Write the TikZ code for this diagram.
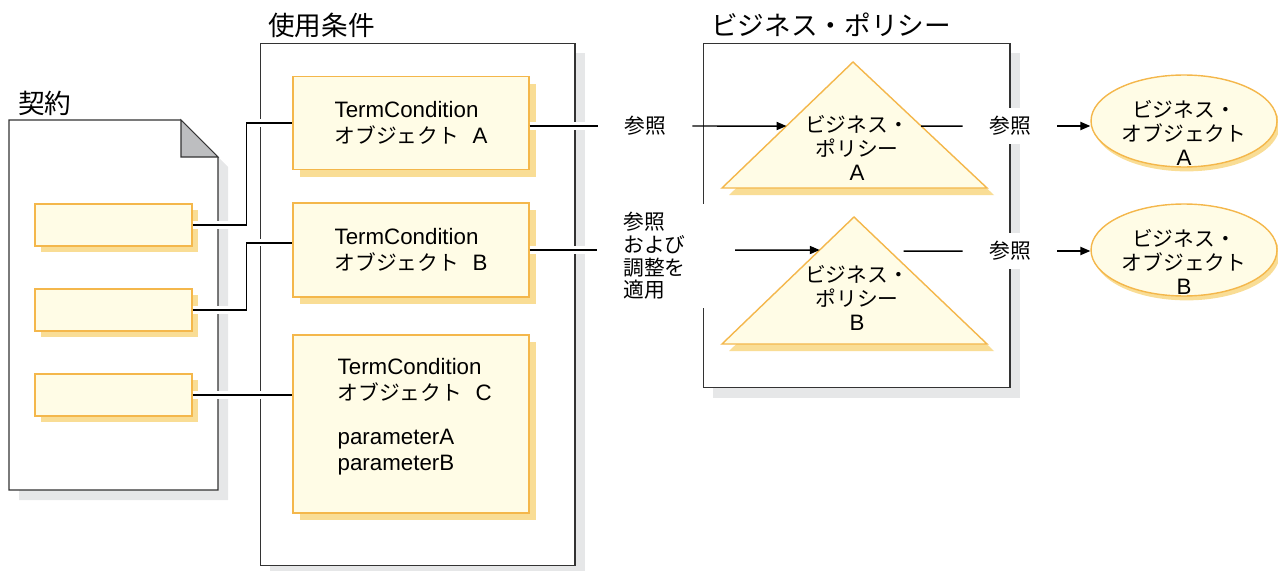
\documentclass[tikz,border=0pt]{standalone}
\usepackage{fontspec}
\setmainfont{Liberation Sans}
\newfontfamily\jp{Noto Sans CJK JP}[Scale=0.93]
\usetikzlibrary{arrows.meta,positioning,calc,shapes.geometric,shadows}
\definecolor{boxline}{HTML}{F4B74B}
\definecolor{boxfill}{HTML}{FFFCE6}
\definecolor{boxside}{HTML}{F9DD95}
\definecolor{frameshade}{HTML}{E6E7E8}
\definecolor{framefold}{HTML}{BDBEC0}
\definecolor{frameline}{HTML}{333333}
\newcommand{\bodyfont}{\fontsize{12.7}{14.8}\selectfont}
\newcommand{\tightfont}{\fontsize{12.7}{13.6}\selectfont}
\newcommand{\stackfont}{\fontsize{12.7}{12.9}\selectfont}
\newcommand{\titlefont}{\fontsize{16.3}{18}\selectfont\jp}
\newcommand{\gap}{\hspace{0.6em}}
\tikzset{
  panel/.style={draw=frameline, fill=white, line width=0.6pt,
    drop shadow={shadow xshift=5.7pt, shadow yshift=-5.7pt, fill=frameshade, opacity=1}},
  title/.style={anchor=west, inner sep=0pt, font=\titlefont},
  yellow/.style={draw=boxline, fill=boxfill, line width=0.8pt},
  slot/.style={yellow, minimum width=3.14cm, minimum height=0.84cm, inner sep=0pt,
    drop shadow={shadow xshift=3.4pt, shadow yshift=-3.4pt, fill=boxside, opacity=1}},
  tcbox/.style={yellow, minimum width=4.72cm, align=left, font=\bodyfont,
    drop shadow={shadow xshift=4pt, shadow yshift=-4pt, fill=boxside, opacity=1}},
  tri/.style={yellow,
    drop shadow={shadow xshift=4pt, shadow yshift=-4pt, fill=boxside, opacity=1}},
  poltext/.style={align=center, font=\tightfont, inner sep=0pt},
  ellbox/.style={yellow, ellipse, minimum width=3.72cm, minimum height=1.84cm, inner sep=0pt,
    drop shadow={shadow xshift=1.5pt, shadow yshift=-2.5pt, fill=boxside, opacity=1}},
  elltext/.style={align=center, font=\tightfont, inner sep=0pt, yshift=-6.8pt},
  tag/.style={fill=white, inner xsep=15pt, inner ysep=5pt, font=\bodyfont\jp},
  link/.style={line width=0.85pt},
  halo/.style={preaction={draw=white, line width=4pt}},
  flow/.style={link, -{Triangle[length=5.6pt, width=4.6pt]}},
}

\begin{document}
\begin{tikzpicture}[x=0.02cm, y=-0.02cm]
  \useasboundingbox (0,0) rectangle (1278,571);

  % frames
  \draw[panel] (9,120) -- (181,120) -- (218,157) -- (218,490) -- (9,490) -- cycle;
  \filldraw[draw=frameline, fill=framefold, line width=0.6pt] (181,120) -- (181,157) -- (218,157) -- cycle;
  \node[panel, minimum width=6.3cm, minimum height=10.46cm] (useframe) at (417.5,304.5) {};
  \node[panel, minimum width=6.14cm, minimum height=6.9cm] (polframe) at (856.5,215.5) {};
  \node[title] (doctitle) at (18,103) {契約};
  \node[title] (usetitle) at (268,25) {使用条件};
  \node[title] (poltitle) at (711,25) {ビジネス・ポリシー};

  % contract slots and term conditions
  \node[slot] (slot1) at (113.5,225) {};
  \node[slot] (slot2) at (113.5,310) {};
  \node[slot] (slot3) at (113.5,395) {};
  \node[tcbox, minimum height=1.86cm] (tcA) at (411,123) {TermCondition\\{\jp オブジェクト}\gap A};
  \node[tcbox, minimum height=1.88cm] (tcB) at (411,250) {TermCondition\\{\jp オブジェクト}\gap B};
  \node[tcbox, minimum height=3.56cm] (tcC) at (411,424) {};
  \node[anchor=north west, inner sep=0pt, align=left, font=\bodyfont] (tcCtext)
    at ($(tcC.north west)+(45,24)$) {TermCondition\\{\jp オブジェクト}\gap C\\[10pt]parameterA\\parameterB};

  % business policies
  \coordinate (apexA) at (853,62);
  \coordinate (leftA) at (722,188);
  \coordinate (rightA) at (987,188);
  \coordinate (apexB) at (854,217);
  \coordinate (leftB) at (722,344);
  \coordinate (rightB) at (987,344);
  \draw[tri] (apexA) -- (rightA) -- (leftA) -- cycle;
  \draw[tri] (apexB) -- (rightB) -- (leftB) -- cycle;
  \node[poltext] (polA) at (857,148) {{\jp ビジネス・}\\{\jp ポリシー}\\A};
  \node[poltext] (polB) at (857,298) {{\jp ビジネス・}\\{\jp ポリシー}\\B};
  \coordinate (inA) at ($(apexA)!0.508!(leftA)$);
  \coordinate (outA) at ($(apexA)!0.508!(rightA)$);
  \coordinate (inB) at ($(apexB)!0.26!(leftB)$);
  \coordinate (outB) at ($(apexB)!0.268!(rightB)$);

  % business objects
  \node[ellbox, label={[elltext]center:{{\jp ビジネス・}\\{\jp オブジェクト}\\A}}] (ellA) at (1184,121) {};
  \node[ellbox, label={[elltext]center:{{\jp ビジネス・}\\{\jp オブジェクト}\\B}}] (ellB) at (1184,250) {};

  % labels
  \node[tag] (ref1) at (645,126) {参照};
  \node[tag, align=left, font=\stackfont\jp] (ref2) at (654.5,256) {参照\\および\\調整を\\適用};
  \node[tag] (ref3) at (1010,126) {参照};
  \node[tag] (ref4) at (1010,251) {参照};

  % connectors
  \draw[link, halo] (slot1.east) -- ++(54,0) |- (tcA.west);
  \draw[link, halo] (slot2.east) -- ++(54,0) |- ([yshift=4pt]tcB.west);
  \draw[link, halo] (slot3.east) -- (slot3.east -| tcC.west);
  \draw[link, halo] (tcA.east |- ref1) -- (ref1);
  \draw[link, halo] (tcB.east) -- (tcB.east -| ref2.west);
  \draw[flow] (ref1) -- (inA);
  \draw[flow, shorten <=13pt] (ref2.east |- tcB.east) -- (inB);
  \draw[link] (outA) -- (ref3);
  \draw[link, shorten <=8pt] (outB) -- (ref4);
  \draw[flow] (ref3) -- (ref3 -| ellA.west);
  \draw[flow] (ref4) -- (ref4 -| ellB.west);
\end{tikzpicture}
\end{document}
